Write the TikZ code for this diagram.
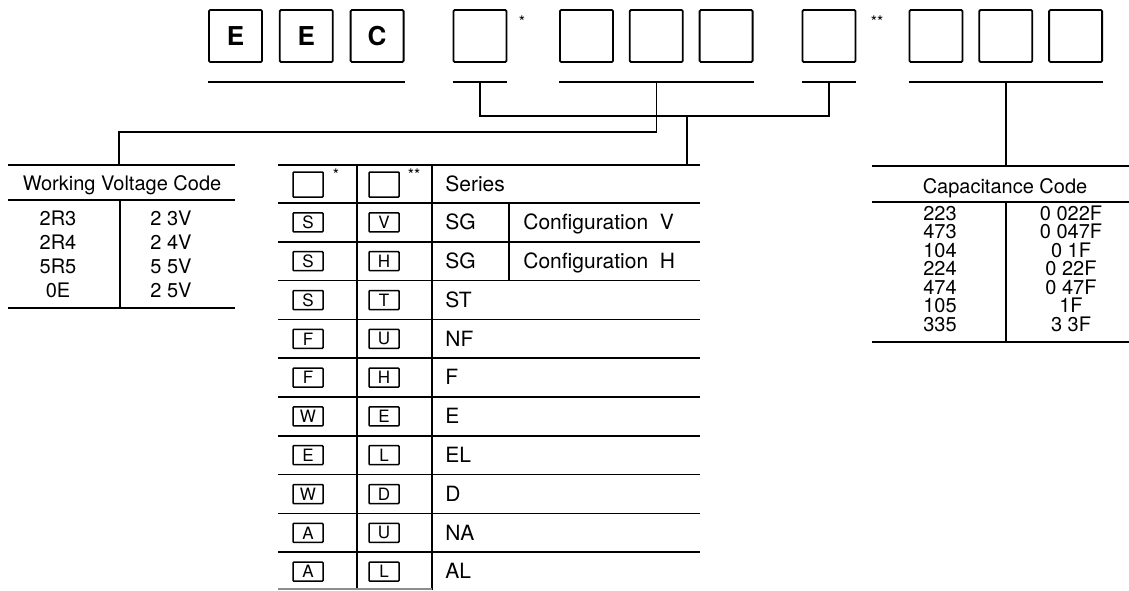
\documentclass[tikz,border=0pt]{standalone}
\usepackage{fontspec}
\setmainfont{TeX Gyre Heros}
\usetikzlibrary{positioning,calc}
\tikzset{
  digit/.style={draw, line width=0.9pt, rounded corners=0.6pt,
                minimum width=26.5pt, minimum height=26pt, inner sep=0pt,
                font=\fontsize{13}{13}\selectfont\bfseries},
  slot/.style={draw, line width=0.75pt, rounded corners=0.4pt,
               minimum width=15pt, minimum height=9.5pt, inner sep=0pt,
               font=\fontsize{8.5}{8.5}\selectfont},
  hslot/.style={slot, minimum height=12.5pt},
  rule/.style={line width=0.8pt},
  grid/.style={line width=0.55pt},
  txt/.style={font=\fontsize{10}{12}\selectfont, inner sep=0pt,
              text height=7.2pt, text depth=0pt},
  sertxt/.style={txt, font=\fontsize{10.5}{12}\selectfont, anchor=west},
  star/.style={font=\fontsize{8}{8}\selectfont, inner sep=0pt},
}
\begin{document}
\begin{tikzpicture}[x=0.5pt, y=-0.5pt]
  \useasboundingbox (0,0) rectangle (1129,590);
  % part number boxes
  \node[digit] (p1) at (235.5,36) {E};
  \node[digit, right=8pt of p1] (p2) {E};
  \node[digit, right=8pt of p2] (p3) {C};
  \node[digit] (p4) at (480,36) {};
  \node[star] (st1) at (522,22) {*};
  \node[digit] (p5) at (586.5,36) {};
  \node[digit, right=7.5pt of p5] (p6) {};
  \node[digit, right=7.5pt of p6] (p7) {};
  \node[digit] (p8) at (829,36) {};
  \node[star] (st2) at (877,22) {**};
  \node[digit] (p9) at (936,36) {};
  \node[digit, right=7.5pt of p9] (p10) {};
  \node[digit, right=7.5pt of p10] (p11) {};
  % underlines
  \draw[rule] ([yshift=-9.5pt]p1.south west) -- ([yshift=-9.5pt]p3.south east);
  \draw[rule] ([yshift=-9.5pt]p4.south west) -- ([yshift=-9.5pt]p4.south east);
  \draw[rule] ([yshift=-9.5pt]p5.south west) -- ([yshift=-9.5pt]p7.south east);
  \draw[rule] ([yshift=-9.5pt]p8.south west) -- ([yshift=-9.5pt]p8.south east);
  \draw[rule] ([yshift=-9.5pt]p9.south west) -- ([yshift=-9.5pt]p11.south east);
  \coordinate (t4) at ([yshift=-9.5pt]p4.south);
  \coordinate (t6) at ([yshift=-9.5pt]p6.south);
  \coordinate (t8) at ([yshift=-9.5pt]p8.south);
  \coordinate (t10) at ([yshift=-9.5pt]p10.south);
  % table anchors
  \coordinate (wvtop) at (119,165);
  \coordinate (sertop) at (687,165);
  \coordinate (jser) at (687,115);
  \coordinate (captop) at (t10 |- 0,166);
  % connectors
  \draw[rule] (t4) -- ++(0,34) -| (t8);
  \draw[rule] (t6) -- ++(0,50) -| (wvtop);
  \draw[rule] (jser) -- (sertop);
  \draw[rule] (t10) -- (captop);
  % working voltage table
  \draw[rule] (8,165) -- (235,165);
  \node[txt] (wvhead) at (122,183) {Working Voltage Code};
  \draw[rule] (8,200) -- (235,200);
  \draw[grid] (120,200) -- (120,308);
  \draw[rule] (8,308) -- (235,308);
  \foreach \c/\v [count=\i] in {2R3/2 3V,2R4/2 4V,5R5/5 5V,0E/2 5V}{
    \node[txt] (wvc\i) at (58,194+24*\i) {\c};
    \node[txt] (wvv\i) at (171,194+24*\i) {\v};
  }
  % series table
  \draw[rule] (278,165) -- (700,165);
  \node[hslot] (hs1) at (308,184.5) {};
  \node[star] (st3) at (336,175) {*};
  \node[hslot] (hs2) at (384,184.5) {};
  \node[star] (st4) at (414,175) {**};
  \node[sertxt] (serhead) at (445,184) {Series};
  \foreach \a/\b/\s [count=\i] in {S/V/SG,S/H/SG,S/T/ST,F/U/NF,F/H/F,
                                   W/E/E,E/L/EL,W/D/D,A/U/NA,A/L/AL}{
    \draw[rule] (278,164.2+38.8*\i) -- (700,164.2+38.8*\i);
    \node[slot] (sa\i) at (308,183.6+38.8*\i) {\a};
    \node[slot] (sb\i) at (384,183.6+38.8*\i) {\b};
    \node[sertxt] (ss\i) at (445,183.6+38.8*\i) {\s};
  }
  \node[sertxt] (cfg1) at (523,222.4) {Configuration\ \ V};
  \node[sertxt] (cfg2) at (523,261.2) {Configuration\ \ H};
  \draw[grid] (357,165) -- (357,590);
  \draw[grid] (432,165) -- (432,590);
  \draw[grid] (509,203) -- (509,280.6);
  \draw[grid, black!45] (278,589) -- (432,589);
  % capacitance table
  \draw[rule] (872,166) -- (1129,166);
  \node[txt] (caphead) at (1005,186) {Capacitance Code};
  \draw[rule] (872,202) -- (1129,202);
  \draw[grid] (1006,202) -- (1006,342);
  \draw[rule] (872,342) -- (1129,342);
  \foreach \c/\v [count=\i] in {223/0 022F,473/0 047F,104/0 1F,224/0 22F,
                                474/0 47F,105/1F,335/3 3F}{
    \node[txt] (cc\i) at (940,194.5+18.5*\i) {\c};
    \node[txt] (cv\i) at (1071,194.5+18.5*\i) {\v};
  }
\end{tikzpicture}
\end{document}
